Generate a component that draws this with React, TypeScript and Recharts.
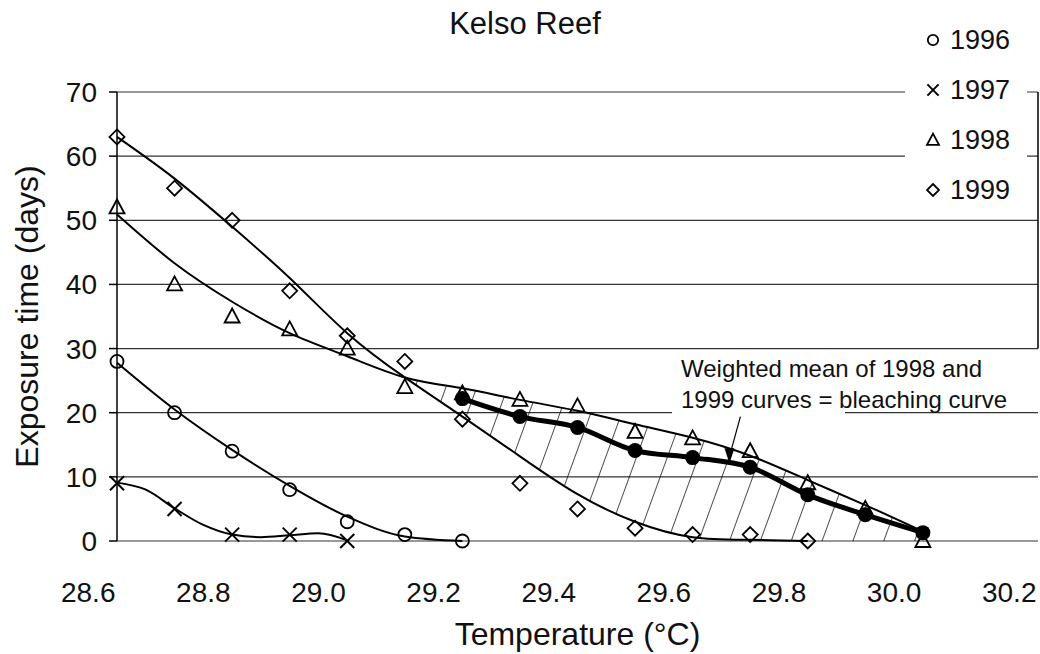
import React from 'react'
import { ComposedChart, Line, Scatter, Area, XAxis, YAxis, CartesianGrid, ReferenceLine, ReferenceDot } from 'recharts'

// temperature bins (°C)
const temps = [28.65, 28.75, 28.85, 28.95, 29.05, 29.15, 29.25, 29.35, 29.45, 29.55, 29.65, 29.75, 29.85, 29.95, 30.05]
const temps1997Fit = [28.65, 28.7, 28.75, 28.8, 28.85, 28.9, 28.95, 29.0, 29.05]

// observed exposure times (days)
const obs1996 = [28, 20, 14, 8, 3, 1, 0]
const obs1997 = [9, 5, 1, 1, 0]
const obs1998 = [52, 40, 35, 33, 30, 24, 23, 22, 21, 17, 16, 14, 9, 5, 0]
const obs1999 = [63, 55, 50, 39, 32, 28, 19, 9, 5, 2, 1, 1, 0]
const bleachStart = 6
const bleach = [22.2, 19.4, 17.7, 14.1, 13, 11.5, 7.2, 4.1, 1.3]

// fitted curves
const fit1996 = [27.8, 20.5, 14.2, 8.6, 3.8, 0.7, 0]
const fit1997 = [9.1, 8.0, 5.1, 2.5, 1.0, 0.6, 0.9, 1.2, 0.1]
const fit1998 = [50.9, 43.3, 37.3, 32.4, 28.8, 25.5, 23.8, 22, 20.3, 18.2, 16.1, 13.3, 9.5, 5.6, 1.5]
const fit1999 = [63, 56.5, 49, 41, 32.4, 25.5, 19.4, 13.2, 7.3, 3.0, 0.6, 0.2, 0]
const hatchStart = 5

const yTicks = [0, 10, 20, 30, 40, 50, 60, 70]
const xLabelTicks = [28.6, 28.8, 29.0, 29.2, 29.4, 29.6, 29.8, 30.0, 30.2]
const xMarkTicks = [28.65, 28.85, 29.05, 29.25, 29.45, 29.65, 29.85, 30.05, 30.25]
const legendYears = ['1996', '1997', '1998', '1999']

const pts = (xs: number[], ys: number[]) => ys.map((v, i) => ({ t: xs[i], v }))

const hatchData = temps.slice(hatchStart).map((t, k) => {
  const i = k + hatchStart
  const lo = i < fit1999.length ? fit1999[i] : 0
  return { t, r: [Math.min(lo, fit1998[i]), Math.max(lo, fit1998[i])] }
})

const FONT = '"Liberation Sans", Arial, sans-serif'

const OpenCircle = (p: any) => <circle cx={p.cx} cy={p.cy} r={6.5 * (p.k || 1)} fill="none" stroke="#000" strokeWidth={1.8} />
const Cross = (p: any) => {
  const s = 7 * (p.k || 1)
  return (
    <g stroke="#000" strokeWidth={2}>
      <line x1={p.cx - s} y1={p.cy - s} x2={p.cx + s} y2={p.cy + s} />
      <line x1={p.cx - s} y1={p.cy + s} x2={p.cx + s} y2={p.cy - s} />
    </g>
  )
}
const Tri = (p: any) => {
  const s = p.k || 1
  return <path d={`M${p.cx},${p.cy - 8 * s} L${p.cx + 7.5 * s},${p.cy + 6 * s} L${p.cx - 7.5 * s},${p.cy + 6 * s} Z`} fill="none" stroke="#000" strokeWidth={1.8} />
}
const Diamond = (p: any) => {
  const s = 7.5 * (p.k || 1)
  return <path d={`M${p.cx},${p.cy - s} L${p.cx + s},${p.cy} L${p.cx},${p.cy + s} L${p.cx - s},${p.cy} Z`} fill="none" stroke="#000" strokeWidth={1.8} />
}
const Dot = (p: any) => <circle cx={p.cx} cy={p.cy} r={7.5} fill="#000" />
const ArrowHead = (p: any) => (
  <path d={`M${p.cx - 5},${p.cy - 8} L${p.cx + 5},${p.cy - 8} L${p.cx},${p.cy + 7} Z`} fill="#000" />
)

const legendShape: Record<string, (p: any) => React.ReactElement> = {
  '1996': OpenCircle, '1997': Cross, '1998': Tri, '1999': Diamond,
}

function App() {
  return (
    <div style={{ position: 'absolute', left: 0, top: 0, width: 1040, height: 654, fontFamily: FONT, background: '#fff' }}>
      <ComposedChart width={1040} height={654} margin={{ top: 92, right: 2, bottom: 0, left: 0 }}>
        <defs>
          <pattern id="hatch" patternUnits="userSpaceOnUse" width={29} height={29} patternTransform="rotate(20)">
            <line x1={0} y1={0} x2={0} y2={29} stroke="#000" strokeWidth={1.4} />
          </pattern>
        </defs>
        <CartesianGrid vertical={false} stroke="#333" strokeWidth={1.2} />
        <XAxis xAxisId={0} type="number" dataKey="t" domain={[28.65, 30.25]} ticks={xMarkTicks}
          tick={false} tickSize={8} height={0} stroke="#000" strokeWidth={1.5} />
        <XAxis xAxisId="lbl" type="number" dataKey="t" domain={[28.65, 30.25]} ticks={xLabelTicks}
          allowDataOverflow axisLine={false} tickLine={false} tickSize={0} tickMargin={41} height={113}
          tick={{ fontSize: 28, fill: '#111' }} tickFormatter={(v: number) => v.toFixed(1)}
          label={{
            content: (props: any) => {
              const vb = props.viewBox
              return <text x={vb.x + vb.width / 2} y={vb.y + 104} textAnchor="middle" fontSize={32} fill="#111">Temperature (°C)</text>
            },
          }} />
        <YAxis type="number" dataKey="v" domain={[0, 70]} ticks={yTicks} width={117} tickSize={8} tickMargin={12}
          stroke="#000" strokeWidth={1.5} tick={{ fontSize: 28, fill: '#111' }}
          label={{
            content: (props: any) => {
              const vb = props.viewBox
              const cy = vb.y + vb.height / 2
              return <text x={30} y={cy} transform={`rotate(-90 30 ${cy})`} textAnchor="middle" dominantBaseline="middle" fontSize={32} fill="#111">Exposure time (days)</text>
            },
          }} />

        <Area data={hatchData} dataKey="r" type="natural" stroke="none" fill="url(#hatch)" fillOpacity={1} isAnimationActive={false} />

        <Line data={pts(temps, fit1996)} dataKey="v" type="monotone" stroke="#000" strokeWidth={2} dot={false} isAnimationActive={false} />
        <Line data={pts(temps1997Fit, fit1997)} dataKey="v" type="monotone" stroke="#000" strokeWidth={2} dot={false} isAnimationActive={false} />
        <Line data={pts(temps, fit1998)} dataKey="v" type="natural" stroke="#000" strokeWidth={2} dot={false} isAnimationActive={false} />
        <Line data={pts(temps, fit1999)} dataKey="v" type="natural" stroke="#000" strokeWidth={2} dot={false} isAnimationActive={false} />
        <Line data={pts(temps.slice(bleachStart), bleach)} dataKey="v" type="monotone" stroke="#000" strokeWidth={5} dot={false} isAnimationActive={false} />

        <Scatter name="1996" data={pts(temps, obs1996)} shape={OpenCircle} isAnimationActive={false} />
        <Scatter name="1997" data={pts(temps, obs1997)} shape={Cross} isAnimationActive={false} />
        <Scatter name="1998" data={pts(temps, obs1998)} shape={Tri} isAnimationActive={false} />
        <Scatter name="1999" data={pts(temps, obs1999)} shape={Diamond} isAnimationActive={false} />
        <Scatter name="bleaching" data={pts(temps.slice(bleachStart), bleach)} shape={Dot} isAnimationActive={false} />

        <ReferenceLine segment={[{ x: 30.25, y: 30 }, { x: 30.25, y: 70 }]} stroke="#000" strokeWidth={1.5} />
        <ReferenceLine segment={[{ x: 29.733, y: 19.4 }, { x: 29.715, y: 13.5 }]} stroke="#000" strokeWidth={1.2} />
        <ReferenceDot x={29.714} y={13.2} shape={ArrowHead} />
      </ComposedChart>

      <svg width={1040} height={654} style={{ position: 'absolute', left: 0, top: 0, pointerEvents: 'none' }}>
        <text x={525} y={34} textAnchor="middle" fontSize={31} fill="#111">Kelso Reef</text>
        <rect x={905} y={12} width={122} height={196} fill="#fff" />
        {legendYears.map((yr, i) => {
          const cy = 40 + i * 50
          const S = legendShape[yr]
          return (
            <g key={yr}>
              {S({ cx: 933, cy, k: 0.8 })}
              <text x={950} y={cy + 9} fontSize={27} fill="#111">{yr}</text>
            </g>
          )
        })}
        <rect x={672} y={352} width={173} height={64} fill="#fff" />
        <text x={681} y={377} fontSize={24} fill="#111">Weighted mean of 1998 and</text>
        <text x={681} y={408} fontSize={24} fill="#111">1999 curves = bleaching curve</text>
      </svg>
    </div>
  )
}

export default App
